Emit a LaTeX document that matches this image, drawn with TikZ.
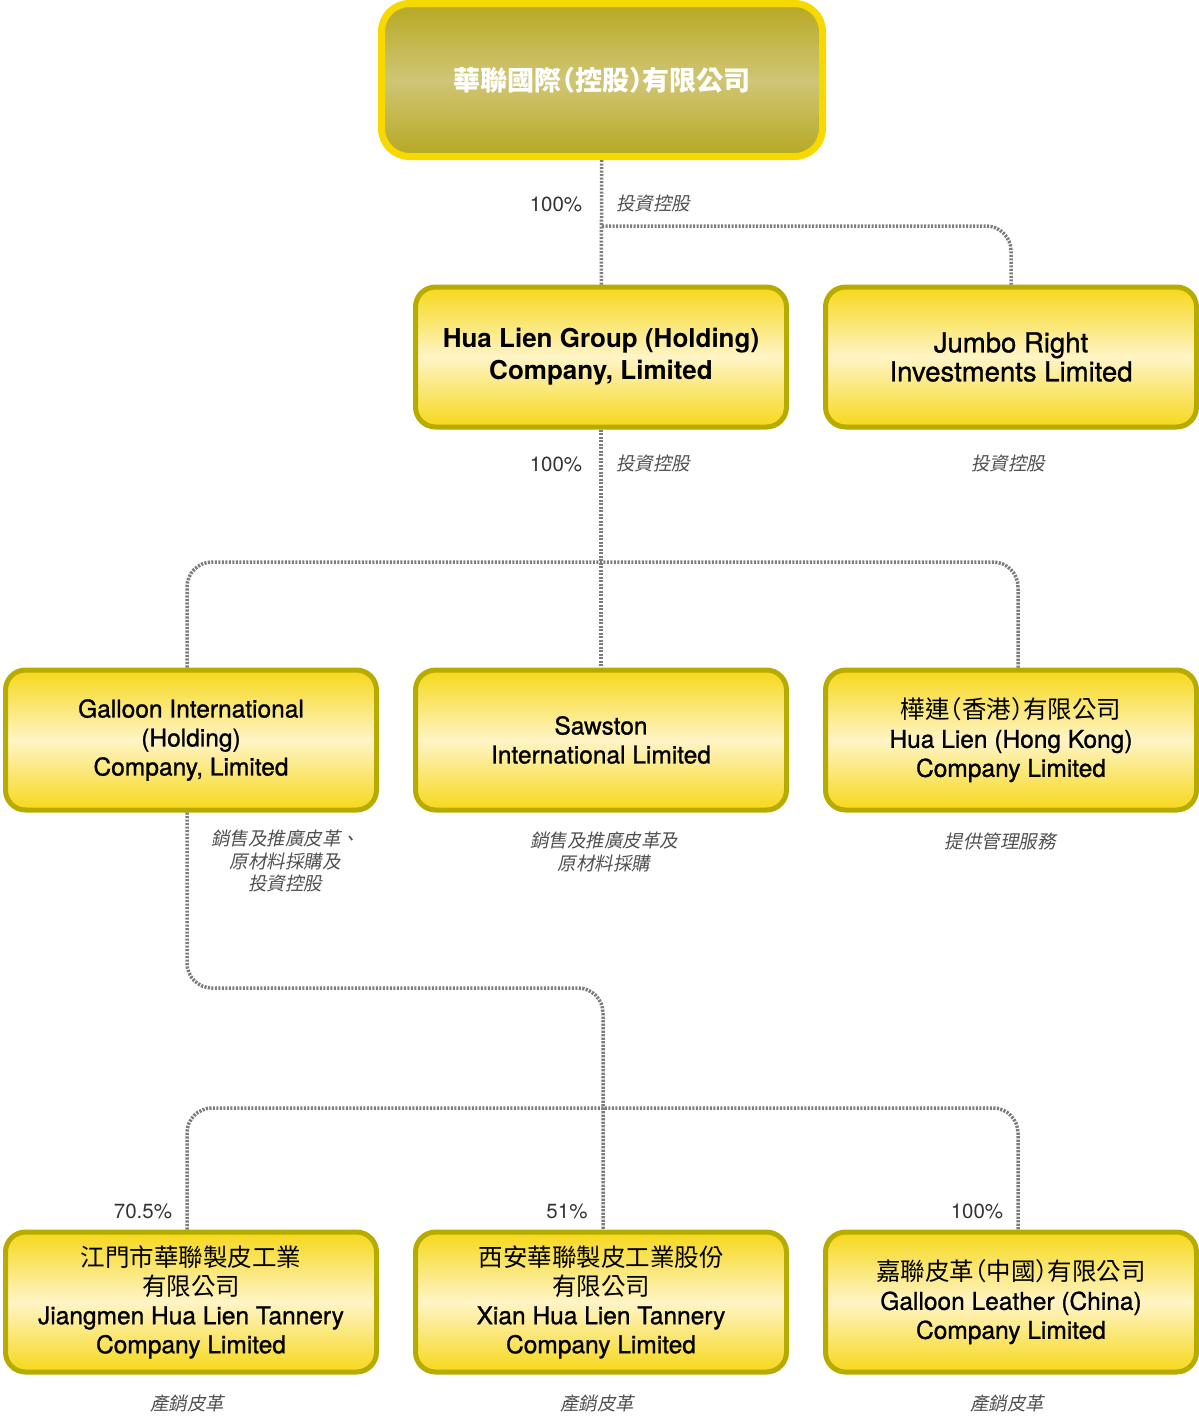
\documentclass[tikz,border=0pt]{standalone}
\usepackage{fontspec}
\setmainfont{TeX Gyre Heros}
\newfontfamily\medium{TeX Gyre Heros}[FakeBold=1]
\newfontfamily\cjk{Noto Sans CJK TC}
\newfontfamily\cjkhalt{Noto Sans CJK TC}[RawFeature=+halt]
\newfontfamily\cjkit{Noto Sans CJK TC}[FakeSlant=0.2]
\usetikzlibrary{positioning}

\definecolor{boxline}{HTML}{B8AB00}
\definecolor{boxtop}{HTML}{F6D81A}
\definecolor{boxmid}{HTML}{FFF4C6}
\definecolor{toptone}{HTML}{B6A922}
\definecolor{topmid}{HTML}{D0C575}
\definecolor{topline}{HTML}{F7D900}
\definecolor{linkgray}{HTML}{7C7C7C}
\definecolor{notegray}{HTML}{505050}

\tikzset{
  company/.style={draw=boxline, line width=5pt, rounded corners=20pt,
    minimum width=371pt, minimum height=140pt,
    top color=boxtop, bottom color=boxtop, middle color=boxmid,
    align=center, font=\medium\fontsize{24.5}{29}\selectfont},
  parent/.style={draw=topline, line width=7pt, rounded corners=28pt,
    minimum width=441pt, minimum height=153pt,
    top color=toptone, bottom color=toptone, middle color=topmid,
    text=white, font=\cjkhalt\bfseries\fontsize{27}{30}\selectfont},
  link/.style={linkgray, line width=3.5pt, dash pattern=on 2.2pt off 1.3pt,
    rounded corners=25pt},
  pct/.style={text=black!80, font=\fontsize{20.5}{24}\selectfont},
  note/.style={text=notegray, align=center,
    font=\cjkit\fontsize{18.5}{22.5}\selectfont},
}

\begin{document}
\begin{tikzpicture}[x=1pt, y=-1pt, node distance=410pt]
    \useasboundingbox (0,0) rectangle (1199,1417);

    % companies
    \node[parent] (top) at (602,80) {華聯國際（控股）有限公司};

    \node[company, font=\bfseries\fontsize{26}{32}\selectfont] (group) at (601,357)
        {Hua Lien Group (Holding)\\Company, Limited};
    \node[company, font=\medium\fontsize{27.5}{29}\selectfont] (jumbo) [right of=group]
        {Jumbo Right\\Investments Limited};

    \node[company] (sawston) at (601,740) {Sawston\\International Limited};
    \node[company] (galloon) [left of=sawston]
        {Galloon International\\(Holding)\\Company, Limited};
    \node[company] (hk) [right of=sawston]
        {{\cjkhalt 樺連（香港）有限公司}\\Hua Lien (Hong Kong)\\Company Limited};

    \node[company] (xian) at (601,1302)
        {{\cjk 西安華聯製皮工業股份}\\{\cjk 有限公司}\\Xian Hua Lien Tannery\\Company Limited};
    \node[company] (jiangmen) [left of=xian]
        {{\cjk 江門市華聯製皮工業}\\{\cjk 有限公司}\\Jiangmen Hua Lien Tannery\\Company Limited};
    \node[company] (leather) [right of=xian]
        {{\cjkhalt 嘉聯皮革（中國）有限公司}\\Galloon Leather (China)\\Company Limited};

    % hubs
    \coordinate (hub1) at (602,562);
    \coordinate (hub2) at (603,988);
    \coordinate (hub3) at (603,1108);

    % links
    \draw[link] (top) -- (group);
    \draw[link] (top.south) ++(0,66) -| (jumbo.north);
    \draw[link] (group) -- (sawston);
    \draw[link] ([xshift=-4pt]galloon.north) |- (hub1) -| ([xshift=7pt]hk.north);
    \draw[link] ([xshift=-4pt]galloon.south) |- (hub2) -- ([xshift=2pt]xian.north);
    \draw[link] ([xshift=-4pt]jiangmen.north) |- (hub3) -| ([xshift=7pt]leather.north);

    % shares and activities
    \node[pct] (p1) at (556,204) {100\%};
    \node[note] (n1) at (653,203) {投資控股};
    \node[pct] (p2) at (556,464) {100\%};
    \node[note] (n2) at (653,463) {投資控股};
    \node[note] (n3) at (1008,463) {投資控股};
    \node[note] (n4) at (285,861) {銷售及推廣皮革、\\原材料採購及\\投資控股};
    \node[note] (n5) at (604,852) {銷售及推廣皮革及\\原材料採購};
    \node[note] (n6) at (1000,841) {提供管理服務};
    \node[pct] (p3) at (143,1211) {70.5\%};
    \node[pct] (p4) at (567,1211) {51\%};
    \node[pct] (p5) at (977,1211) {100\%};
    \node[note] (n7) at (187,1403) {產銷皮革};
    \node[note] (n8) at (597,1403) {產銷皮革};
    \node[note] (n9) at (1007,1403) {產銷皮革};
\end{tikzpicture}
\end{document}
